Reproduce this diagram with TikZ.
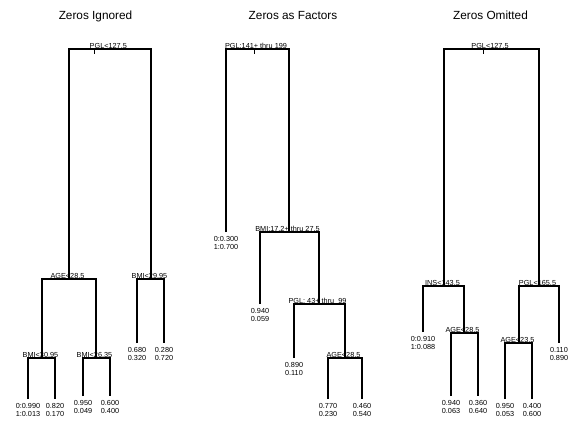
\documentclass[tikz,border=0pt]{standalone}
\usepackage{fontspec}
\newfontfamily\hv{Liberation Sans}
\tikzset{
  branch/.style={line width=1.1pt, line join=miter},
  rootmark/.style={line width=0.5pt},
  splitlbl/.style={anchor=base, inner sep=0pt, xshift=-1.5pt, yshift=0.4pt,
                   font=\hv\fontsize{7.3}{8.3}\selectfont},
  rootlbl/.style={anchor=base, inner sep=0pt, font=\hv\fontsize{7.3}{8.3}\selectfont},
  leaflbl/.style={anchor=north, inner sep=0pt, align=center, yshift=-4pt,
                  font=\hv\fontsize{7.3}{8.5}\selectfont},
  paneltitle/.style={anchor=base, inner sep=0pt, font=\hv\fontsize{11.8}{13}\selectfont}
}
\begin{document}
\begin{tikzpicture}[x=1pt,y=-1pt]
\useasboundingbox (0,0) rectangle (576,421);
\fill[white] (0,0) rectangle (576,421);

% ---------- titles
\node[paneltitle] (t1) at (95.5,19) {Zeros Ignored};
\node[paneltitle] (t2) at (293,19) {Zeros as Factors};
\node[paneltitle] (t3) at (490.5,19) {Zeros Omitted};

% ---------- tree 1: zeros ignored
\coordinate (a0) at (94,49);
\coordinate (a0t) at (94,54);
\coordinate (a1) at (69,279);
\coordinate (a2) at (151,279);
\coordinate (a3) at (42,358);
\coordinate (a4) at (96,358);
\coordinate (a5) at (137,343);
\coordinate (a6) at (164,343);
\coordinate (a7) at (28,399);
\coordinate (a8) at (55,399);
\coordinate (a9) at (83,396);
\coordinate (a10) at (110,396);

\draw[branch] (a1) |- (a0) -| (a2);
\draw[branch] (a3) |- (a1) -| (a4);
\draw[branch] (a5) |- (a2) -| (a6);
\draw[branch] (a7) |- (a3) -| (a8);
\draw[branch] (a9) |- (a4) -| (a10);
\draw[rootmark] (a0) -- (a0t);

\node[rootlbl] (a0l) at (108.3,48.6) {PGL<127.5};
\node[splitlbl] (a1l) at (a1) {AGE<28.5};
\node[splitlbl] (a2l) at (a2) {BMI<29.95};
\node[splitlbl] (a3l) at (a3) {BMI<30.95};
\node[splitlbl] (a4l) at (a4) {BMI<26.35};

\node[leaflbl] (a5l) at (a5) {0.680\\0.320};
\node[leaflbl] (a6l) at (a6) {0.280\\0.720};
\node[leaflbl] (a7l) at (a7) {0:0.990\\1:0.013};
\node[leaflbl] (a8l) at (a8) {0.820\\0.170};
\node[leaflbl] (a9l) at (a9) {0.950\\0.049};
\node[leaflbl] (a10l) at (a10) {0.600\\0.400};

% ---------- tree 2: zeros as factors
\coordinate (b0) at (254,49);
\coordinate (b0t) at (254,54);
\coordinate (b1) at (226,232);
\coordinate (b2) at (289,232);
\coordinate (b3) at (260,304);
\coordinate (b4) at (319,304);
\coordinate (b5) at (294,358);
\coordinate (b6) at (345,358);
\coordinate (b7) at (328,399);
\coordinate (b8) at (362,399);

\draw[branch] (b1) |- (b0) -| (b2);
\draw[branch] (b3) |- (b2) -| (b4);
\draw[branch] (b5) |- (b4) -| (b6);
\draw[branch] (b7) |- (b6) -| (b8);
\draw[rootmark] (b0) -- (b0t);

\node[rootlbl] (b0l) at (256,48.6) {PGL:141+ thru 199};
\node[splitlbl] (b2l) at (b2) {BMI:17.2+ thru 27.5};
\node[splitlbl] (b4l) at (b4) {PGL:\ 43+ thru\ \ 99};
\node[splitlbl] (b6l) at (b6) {AGE<28.5};

\node[leaflbl] (b1l) at (b1) {0:0.300\\1:0.700};
\node[leaflbl] (b3l) at (b3) {0.940\\0.059};
\node[leaflbl] (b5l) at (b5) {0.890\\0.110};
\node[leaflbl] (b7l) at (b7) {0.770\\0.230};
\node[leaflbl] (b8l) at (b8) {0.460\\0.540};

% ---------- tree 3: zeros omitted
\coordinate (c0) at (483,49);
\coordinate (c0t) at (483,54);
\coordinate (c1) at (444,286);
\coordinate (c2) at (539,286);
\coordinate (c3) at (423,332);
\coordinate (c4) at (464,333);
\coordinate (c5) at (451,396);
\coordinate (c6) at (478,396);
\coordinate (c7) at (519,343);
\coordinate (c8) at (559,343);
\coordinate (c9) at (505,399);
\coordinate (c10) at (532,399);

\draw[branch] (c1) |- (c0) -| (c2);
\draw[branch] (c3) |- (c1) -| (c4);
\draw[branch] (c5) |- (c4) -| (c6);
\draw[branch] (c7) |- (c2) -| (c8);
\draw[branch] (c9) |- (c7) -| (c10);
\draw[rootmark] (c0) -- (c0t);

\node[rootlbl] (c0l) at (490,48.6) {PGL<127.5};
\node[splitlbl] (c1l) at (c1) {INS<143.5};
\node[splitlbl] (c2l) at (c2) {PGL<165.5};
\node[splitlbl] (c4l) at (c4) {AGE<28.5};
\node[splitlbl] (c7l) at (c7) {AGE<23.5};

\node[leaflbl] (c3l) at (c3) {0:0.910\\1:0.088};
\node[leaflbl] (c5l) at (c5) {0.940\\0.063};
\node[leaflbl] (c6l) at (c6) {0.360\\0.640};
\node[leaflbl] (c8l) at (c8) {0.110\\0.890};
\node[leaflbl] (c9l) at (c9) {0.950\\0.053};
\node[leaflbl] (c10l) at (c10) {0.400\\0.600};
\end{tikzpicture}
\end{document}
